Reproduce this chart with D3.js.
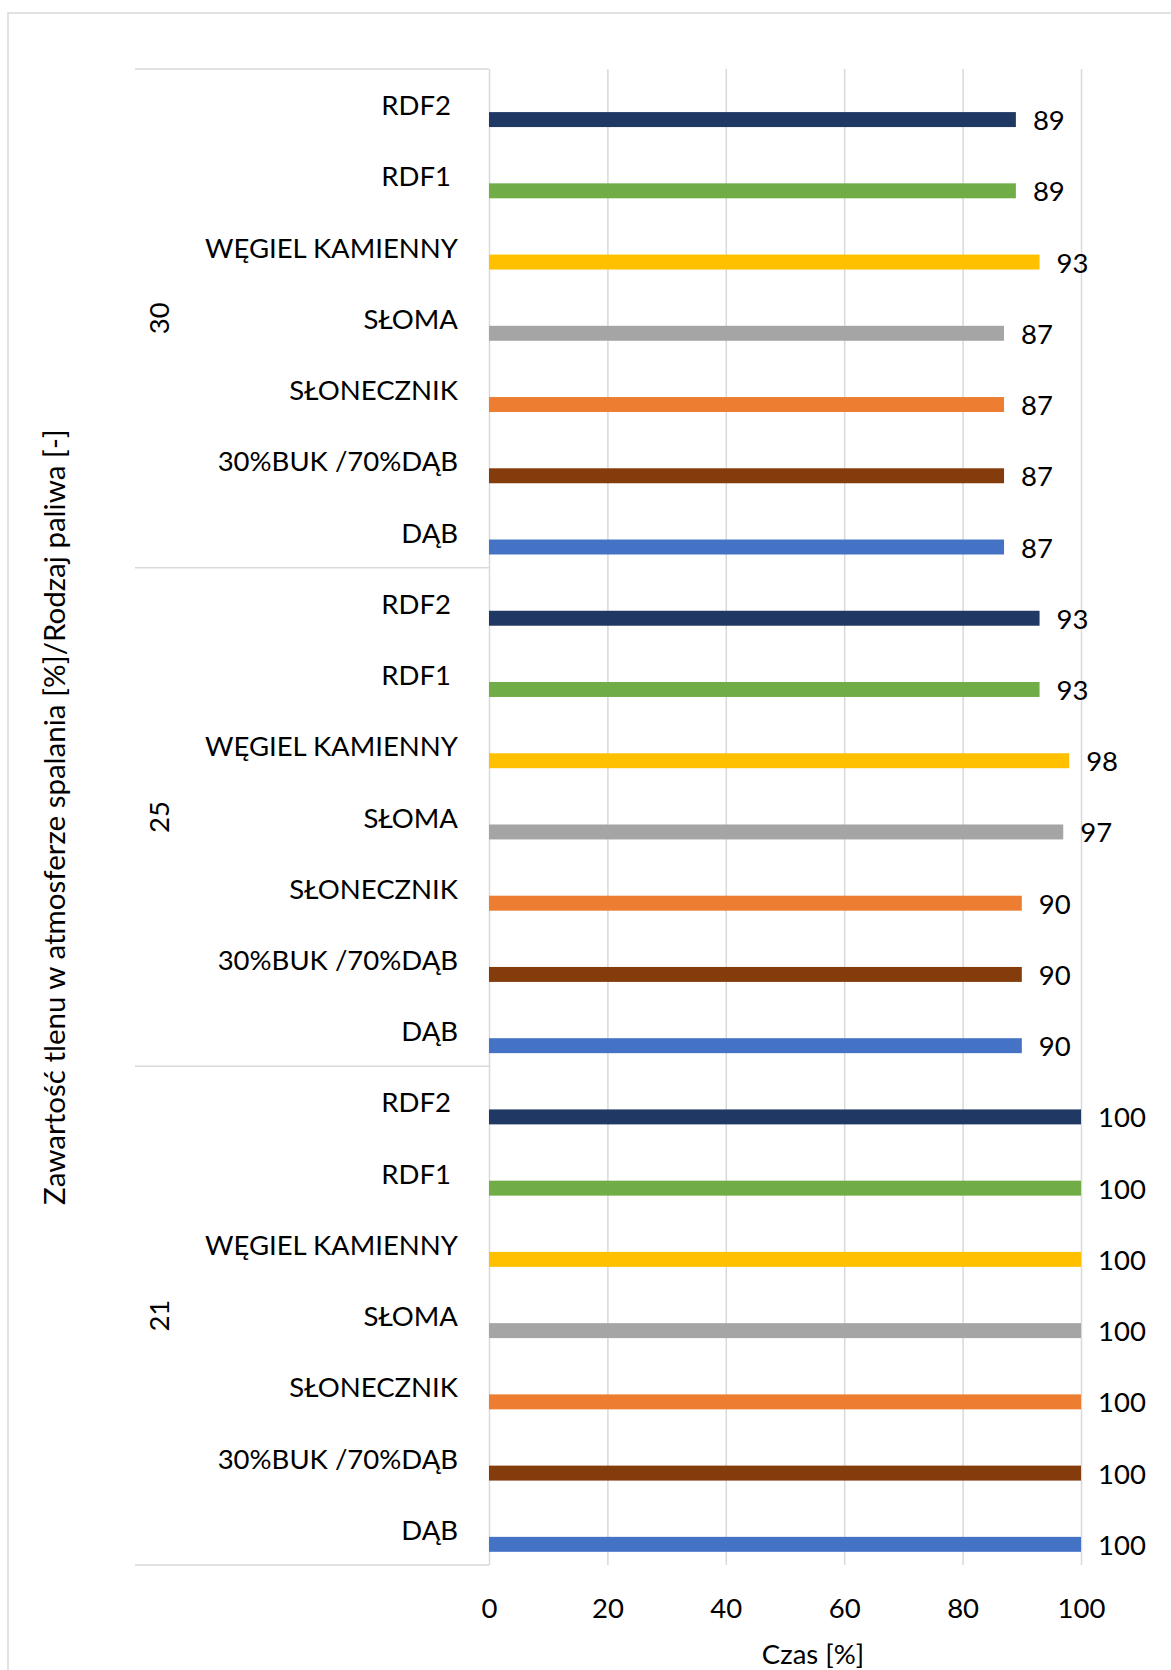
<!DOCTYPE html>
<html lang="pl">
<head>
<meta charset="utf-8">
<title>Czas spalania – zawartość tlenu</title>
<script src="https://cdn.jsdelivr.net/npm/d3@7"></script>
<style>
  html, body { margin: 0; padding: 0; background: #fff; }
  svg { display: block; }
  text { font-family: Lato, "Open Sans", sans-serif; fill: #000; }
</style>
</head>
<body>
<svg id="chart" width="1171" height="1670"></svg>
<script>
// Oxygen content groups (outer category level), top to bottom
const oxygenGroups = ["30", "25", "21"];
// Fuel types (inner category level), top to bottom within each group
const fuels = ["RDF2", "RDF1", "WĘGIEL KAMIENNY", "SŁOMA", "SŁONECZNIK", "30%BUK /70%DĄB", "DĄB"];
// Combustion time [%] for each fuel, per oxygen group
const time30 = [89, 89, 93, 87, 87, 87, 87];
const time25 = [93, 93, 98, 97, 90, 90, 90];
const time21 = [100, 100, 100, 100, 100, 100, 100];
// One colour per fuel
const fuelColors = ["#203864", "#70ad47", "#ffc000", "#a5a5a5", "#ed7d31", "#843c0c", "#4472c4"];
// Value axis ticks
const xTicks = [0, 20, 40, 60, 80, 100];

const seriesByGroup = { "30": time30, "25": time25, "21": time21 };

const svg = d3.select("#chart");
const W = 1171, H = 1670;
const plot = { left: 489, right: 1081, top: 69, bottom: 1565 };
const catLeft = 135;
const gridColor = "#d9d9d9";
const fontSize = 27.5;

// Chart area frame
svg.append("rect")
  .attr("x", 8).attr("y", 13)
  .attr("width", W + 20).attr("height", H + 20)
  .attr("fill", "none").attr("stroke", gridColor).attr("stroke-width", 1.5);

const x = d3.scaleLinear().domain([0, 100]).range([plot.left, plot.right]);
const yGroup = d3.scaleBand().domain(oxygenGroups).range([plot.top, plot.bottom]);
const yFuel = d3.scaleBand().domain(fuels).range([0, yGroup.bandwidth()]);

// Vertical gridlines + tick labels
const xAxis = d3.axisBottom(x)
  .tickValues(xTicks)
  .tickSize(-(plot.bottom - plot.top))
  .tickPadding(0)
  .tickFormat(d3.format("d"));

const gx = svg.append("g")
  .attr("transform", `translate(0,${plot.bottom})`)
  .call(xAxis);
gx.select(".domain").remove();
gx.selectAll(".tick line").attr("stroke", gridColor).attr("stroke-width", 1.5);
gx.selectAll(".tick text")
  .attr("y", 42)
  .attr("dy", null)
  .attr("dominant-baseline", "central")
  .style("font-family", "Lato, 'Open Sans', sans-serif")
  .style("font-size", fontSize + "px")
  .attr("fill", "#000");

// Category axis group separators
svg.append("g").selectAll("line")
  .data([...oxygenGroups.map(g => yGroup(g)), plot.bottom])
  .join("line")
  .attr("x1", catLeft).attr("x2", plot.left)
  .attr("y1", d => d).attr("y2", d => d)
  .attr("stroke", gridColor).attr("stroke-width", 1.5);

// Flatten rows
const rows = [];
oxygenGroups.forEach(g => {
  fuels.forEach((f, i) => {
    rows.push({ group: g, fuel: f, value: seriesByGroup[g][i], color: fuelColors[i] });
  });
});

const barH = yFuel.bandwidth() * 0.21;
const rowCenter = d => yGroup(d.group) + yFuel(d.fuel) + yFuel.bandwidth() / 2;

// Bars
svg.append("g").selectAll("rect")
  .data(rows)
  .join("rect")
  .attr("x", x(0))
  .attr("y", d => rowCenter(d) + barH - barH / 2)
  .attr("width", d => x(d.value) - x(0))
  .attr("height", barH)
  .attr("fill", d => d.color);

// Value labels
svg.append("g").selectAll("text")
  .data(rows)
  .join("text")
  .attr("x", d => x(d.value) + 17)
  .attr("y", d => rowCenter(d) + barH)
  .attr("dominant-baseline", "central")
  .style("font-size", fontSize + "px")
  .text(d => d.value);

// Fuel labels
svg.append("g").selectAll("text")
  .data(rows)
  .join("text")
  .attr("x", 458)
  .attr("y", d => rowCenter(d))
  .attr("text-anchor", "end")
  .attr("dominant-baseline", "central")
  .style("font-size", fontSize + "px")
  .style("white-space", "pre")
  .text(d => d.fuel.startsWith("RDF") ? d.fuel + " " : d.fuel);

// Oxygen group labels
svg.append("g").selectAll("text")
  .data(oxygenGroups)
  .join("text")
  .attr("transform", g => `translate(158,${yGroup(g) + yGroup.bandwidth() / 2}) rotate(-90)`)
  .attr("text-anchor", "middle")
  .attr("dominant-baseline", "central")
  .style("font-size", fontSize + "px")
  .text(g => g);

// Axis titles
svg.append("text")
  .attr("transform", `translate(53,${(plot.top + plot.bottom) / 2}) rotate(-90)`)
  .attr("text-anchor", "middle")
  .attr("dominant-baseline", "central")
  .style("font-size", "29.5px")
  .text("Zawartość tlenu w atmosferze spalania [%]/Rodzaj paliwa [-]");

svg.append("text")
  .attr("x", 813)
  .attr("y", 1653)
  .attr("text-anchor", "middle")
  .attr("dominant-baseline", "central")
  .style("font-size", fontSize + "px")
  .text("Czas [%]");
</script>
</body>
</html>
